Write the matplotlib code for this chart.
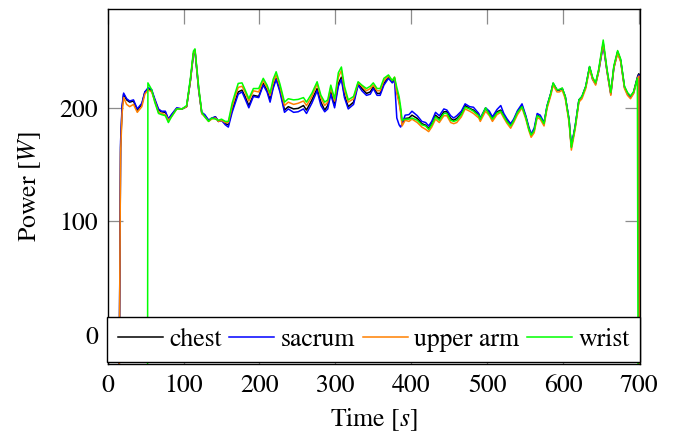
import numpy as np
import matplotlib

matplotlib.use("Agg", force=True)
import matplotlib.pyplot as plt

nan = float("nan")

# time axis shared by all four sensors [s]
time_s = [
    15, 17, 19, 21, 25, 29, 34, 39, 45, 49, 52.5, 53, 58, 62, 67, 71, 76, 80, 84, 91,
    98, 104, 109, 113, 115, 120, 124, 128, 133, 137, 142, 146, 150, 155, 159, 164, 168, 172, 177, 181,
    186, 192, 199, 205, 210, 214, 218, 222, 227, 233, 238, 245, 251, 258, 262, 269, 276, 281, 286, 290,
    294, 299, 304, 308, 312, 317, 324, 330, 335, 341, 346, 350, 355, 359, 364, 370, 375, 378, 381, 384,
    386, 388, 392, 397, 401, 408, 414, 419, 423, 427, 432, 437, 443, 447, 452, 456, 460, 466, 471, 477,
    482, 489, 491, 498, 503, 507, 513, 518, 522, 526, 531, 535, 540, 546, 551, 555, 558, 562, 566, 570,
    575, 579, 584, 587, 592, 595, 599, 603, 608, 611, 616, 621, 625, 630, 635, 639, 643, 647, 653, 658,
    663, 667, 672, 676, 681, 685, 689, 693, 698, 699, 700, 700.5,
]

chest = [
    -60, 165, 200, 212, 207, 205, 206, 198, 203, 214, 216, 217, 215, 207, 198, 196.5, 196, 190, 193.5, 199.5,
    199, 201, 224, 248, 251, 216, 195, 193, 189, 190.5, 192, 188, 189, 186, 185, 198, 206, 214, 215.6, 210,
    202, 211, 210, 221.5, 215.6, 207, 218.5, 226, 215.6, 198, 201, 199, 199.5, 202, 198, 206.8, 217, 205, 198, 202,
    214, 202, 221.5, 227, 211, 201, 205, 221.5, 217, 212.7, 214, 218.5, 212.7, 212.7, 221.5, 227, 223, 226, 214, 206,
    198, 186, 190.6, 191, 193.5, 190.6, 186, 184.7, 181.8, 186, 193.5, 190.6, 196.5, 196.5, 190.6, 189, 190.6, 195, 202, 199.5,
    198, 193.5, 189.7, 199.5, 195, 190.6, 196.5, 198, 193.5, 189, 184.7, 189, 196.5, 202, 192, 181.8, 176, 180.3, 193.5, 192,
    186, 201, 212.7, 221.5, 215.6, 215.6, 217, 209.7, 189, 165.6, 183, 206.8, 209.7, 218.5, 236, 226, 221.5, 233, 257, 233,
    212.7, 236, 249.5, 242, 218.5, 212.7, 209.7, 214, 227, 229, 230, -60,
]

sacrum = [
    -60, 170, 202, 213, 208, 206, 207, 199, 204, 214, 217, 218, 216, 208, 199, 197, 197, 190, 194, 200,
    199, 201, 224, 247, 250, 215, 196, 194, 189, 191, 192, 188, 189, 185, 183, 196, 204, 212, 214, 208,
    200, 210, 209, 220, 214, 205, 217, 225, 214, 196, 199, 196, 196.5, 199, 195, 204, 215, 202, 196.5, 199,
    212, 200, 219, 225, 209, 199, 203, 220, 215, 211, 212, 217, 211, 211, 220, 226, 222, 224, 191, 185,
    183, 186, 193.5, 194, 197, 193, 188, 187, 184, 188, 196, 193, 199, 198, 193, 191, 193, 197, 203.5, 201,
    200.5, 195, 191, 200, 197, 192, 198.5, 202, 195, 190.5, 186, 190, 197.5, 203.5, 193, 183, 177, 182, 195, 193.5,
    187, 202, 213, 221.5, 216, 216, 217, 210, 190, 166, 184, 207, 210, 219, 236, 225, 221, 232, 255, 232,
    212, 235, 249, 241.5, 218, 212, 209, 213, 226, 228, 229, -60,
]

upper_arm = [
    -60, 160, 195, 209, 203, 201, 203, 196, 201, 212, 215, 216, 214, 206, 196, 195, 194, 189, 192, 199,
    199, 201, 224, 248, 251, 216, 195, 192, 188, 190, 191, 188, 189, 187, 187, 201, 210, 218, 219, 214,
    206, 215, 214, 224, 218, 211, 222, 229, 219, 202, 205, 203, 204, 206, 202, 210, 221, 209, 202, 205,
    218, 206, 227, 233, 216, 205, 208, 222, 219, 215, 217, 220, 215, 215, 224, 228, 224, 227, 213, 204,
    196, 184, 189, 188, 190, 187, 183, 181, 179, 183, 190, 187, 193, 193, 187, 186, 187, 192, 199, 197,
    195, 191, 188, 197, 193, 188, 194, 196, 191, 186.5, 182, 187, 194, 200, 190, 180, 174, 178, 191.5, 190,
    184, 199.5, 211, 220, 214, 214, 215.5, 208, 187, 162.7, 181, 205, 208, 217, 234.5, 225, 220, 232, 257, 232,
    211, 235, 248, 240.5, 217, 211, 208, 212.5, 225, 227, 228, -60,
]

wrist = [
    nan, nan, nan, nan, nan, nan, nan, nan, nan, nan, -60, 222, 216, 205, 195, 194, 193, 187, 192, 199,
    199, 202, 226, 250, 252, 218, 196, 192, 188, 191, 190, 189, 190, 188, 188, 204, 213, 221.5, 222, 216,
    208, 217, 217, 226, 220, 213, 225, 231.8, 221, 205, 208, 207, 207.4, 209, 205, 212.7, 223, 211, 205, 207,
    220, 208, 231, 236, 219, 207, 210, 223, 220, 217, 219, 222, 217, 217, 226, 229, 224, 227, 218, 210,
    201, 189, 190, 190, 191, 189, 185, 184, 181, 185, 192, 189, 195, 195, 189, 188, 189, 194, 200.5, 199,
    197, 193, 190, 200, 194, 190, 195.5, 197, 192.5, 188, 184, 188.5, 196, 201, 191.5, 181, 176, 180, 193, 191.5,
    186, 201.5, 213, 222, 216, 216, 217.5, 210, 189, 165, 183, 207, 210, 219, 236.5, 227, 222, 234, 259.8, 234,
    213.5, 237, 250.5, 243, 219, 213.5, 210.5, 214, 226, -60, nan, nan,
]

series = [
    ("chest", chest, "black"),
    ("sacrum", sacrum, "#0000ff"),
    ("upper arm", upper_arm, "#ff8000"),
    ("wrist", wrist, "#00ff00"),
]

plt.rcParams["font.family"] = ["STIXGeneral", "DejaVu Serif"]
plt.rcParams["mathtext.fontset"] = "stix"
plt.rcParams["font.size"] = 18.5

fig = plt.figure(figsize=(6.73, 4.37), dpi=100)
ax = fig.add_axes([0.160, 0.167, 0.791, 0.812])

t = np.asarray(time_s, dtype=float)
for label, values, color in series:
    ax.plot(t, np.asarray(values, dtype=float), color=color, linewidth=1.1, label=label)

ax.set_xlim(0, 701.5)
ax.set_ylim(-26, 287)
ax.set_xticks(range(0, 701, 100))
ax.set_yticks([0, 100, 200])

for spine in ax.spines.values():
    spine.set_color("black")
    spine.set_linewidth(1.0)
ax.tick_params(direction="in", length=11, width=0.9, color="0.55", top=True, right=True,
               labelsize=18.5, pad=7)

ax.set_xlabel("Time $[s]$", labelpad=6)
ax.set_ylabel("Power $[W]$", labelpad=12)

leg = ax.legend(loc="lower center", ncol=4, frameon=True, fancybox=False, framealpha=1,
                edgecolor="black", handlelength=1.75, handletextpad=0.25, columnspacing=0.3,
                borderpad=0.4, borderaxespad=0.08, fontsize=18.5)
leg.get_frame().set_linewidth(1.0)

fig.savefig("out.png", dpi=100)
